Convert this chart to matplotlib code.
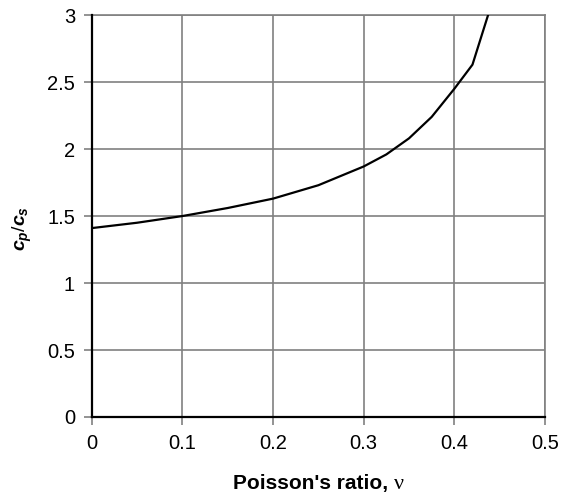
import matplotlib.pyplot as plt

# values
nu = [0.0, 0.05, 0.1, 0.15, 0.2, 0.25, 0.275, 0.3, 0.325, 0.35, 0.375, 0.4, 0.42, 0.44]
ratio = [1.41, 1.45, 1.50, 1.56, 1.63, 1.73, 1.80, 1.87, 1.96, 2.08, 2.24, 2.45, 2.63, 3.06]

xticks = [0, 0.1, 0.2, 0.3, 0.4, 0.5]
xticklabels = ['0', '0.1', '0.2', '0.3', '0.4', '0.5']
yticks = [0, 0.5, 1, 1.5, 2, 2.5, 3]
yticklabels = ['0', '0.5', '1', '1.5', '2', '2.5', '3']

plt.rcParams['font.family'] = ['Liberation Sans', 'DejaVu Sans']
plt.rcParams['mathtext.fontset'] = 'custom'
plt.rcParams['mathtext.rm'] = 'Liberation Sans'
plt.rcParams['mathtext.it'] = 'Liberation Sans:italic:bold'
plt.rcParams['mathtext.bf'] = 'Liberation Sans:bold'

fig = plt.figure(figsize=(5.63, 5.03), dpi=100)
ax = fig.add_axes([0.163, 0.171, 0.805, 0.799])

grid_c = '#808080'
ax.plot(nu, ratio, c='k', lw=1.6, clip_on=True, zorder=3)
ax.set_xlim(0, 0.5)
ax.set_ylim(0, 3)
ax.set_xticks(xticks)
ax.set_xticklabels(xticklabels, fontsize=14.5)
ax.set_yticks(yticks)
ax.set_yticklabels(yticklabels, fontsize=14.5)
ax.grid(True, color=grid_c, lw=1.2)
ax.tick_params(direction='out', length=6, color=grid_c, width=1.2, pad=6)

for s in ['top', 'right']:
    ax.spines[s].set_color(grid_c)
    ax.spines[s].set_linewidth(1.2)
for s in ['left', 'bottom']:
    ax.spines[s].set_color('k')
    ax.spines[s].set_linewidth(1.6)
    ax.spines[s].set_zorder(4)

ax.set_ylabel(r'$\mathit{c_p/c_s}$', fontsize=14)
ax.yaxis.set_label_coords(-0.128, 0.47)

# x label: bold sans text followed by a serif nu, centred under the axes
t1 = fig.text(0, 0.028, "Poisson's ratio, ", fontsize=15, fontweight='bold', ha='left', va='baseline')
t2 = fig.text(0, 0.028, '\u03bd', fontsize=16, family=['Liberation Serif', 'DejaVu Serif'], ha='left', va='baseline')
fig.canvas.draw()
r = fig.canvas.get_renderer()
w1 = t1.get_window_extent(r).width / fig.bbox.width
w2 = t2.get_window_extent(r).width / fig.bbox.width
pos = ax.get_position()
x0 = (pos.x0 + pos.x1) / 2 - (w1 + w2) / 2
t1.set_x(x0)
t2.set_x(x0 + w1)

fig.savefig('out.png', dpi=100)
